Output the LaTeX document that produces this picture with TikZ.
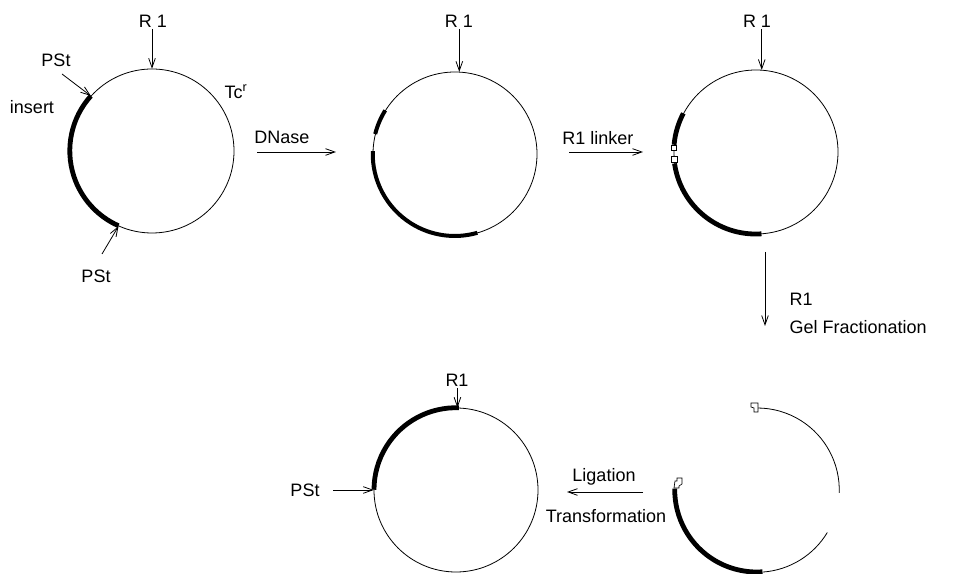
\documentclass[tikz,border=0pt]{standalone}
\usepackage{fontspec}
\setmainfont{Liberation Sans}
\usetikzlibrary{arrows.meta}
\begin{document}
\begin{tikzpicture}[x=0.75pt,y=0.75pt,
  lbl/.style={font=\fontsize{13.5}{16}\selectfont, inner sep=1pt},
  thinline/.style={line width=0.6pt},
  band/.style={line width=3.6pt},
  arr/.style={line width=0.6pt, -{Straight Barb[length=7pt,width=5pt]}},
  ring/.style={circle, minimum size=123pt, inner sep=0pt, draw=none},
  linkbox/.style={draw, fill=white, line width=0.5pt, minimum size=4.2pt, inner sep=0pt},
  hook/.style={draw, fill=white, line width=0.5pt}
]
\useasboundingbox (0,0) rectangle (953,574);

% ---------- circle 1 ----------
\node[ring] (c1) at (152,423) {};
\draw[thinline] (c1) circle[radius=61.5pt];
\draw[band] (c1.138) arc[start angle=138,end angle=246,radius=61.5pt];
\node[lbl] (r1a) at (153,553) {R 1};
\draw[arr] (r1a.south -| c1.north) -- (c1.north);
\node[lbl] (pst1) at (56,514) {PSt};
\coordinate (p1s) at (62,500);
\draw[arr] (p1s) -- (c1.138);
\node[lbl] (ins) at (32,467) {insert};
\node[lbl] (tc) at (236,482) {Tc\textsuperscript{r}};
\node[lbl] (pst2) at (96,298) {PSt};
\coordinate (p2s) at (102,320);
\draw[arr] (p2s) -- (c1.246);

% ---------- DNase ----------
\node[lbl] (dn) at (282,437) {DNase};
\coordinate (dnA) at (257,422);
\coordinate (dnB) at (336,422);
\draw[arr] (dnA) -- (dnB);

% ---------- circle 2 ----------
\node[ring] (c2) at (455,420) {};
\draw[thinline] (c2) circle[radius=61.5pt];
\draw[line width=3pt] (c2.148) arc[start angle=148,end angle=166,radius=61.5pt];
\draw[line width=3pt] (c2.178) arc[start angle=178,end angle=286,radius=61.5pt];
\node[lbl] (r1b) at (459,553) {R 1};
\draw[arr] (r1b.south -| c2.87) -- (c2.87);

% ---------- R1 linker ----------
\node[lbl] (lk) at (598,436) {R1 linker};
\coordinate (lkA) at (569,422);
\coordinate (lkB) at (643,422);
\draw[arr] (lkA) -- (lkB);

% ---------- circle 3 ----------
\node[ring] (c3) at (756,422) {};
\draw[thinline] (c3) circle[radius=61.5pt];
\draw[band] (c3.152) arc[start angle=152,end angle=175,radius=61.5pt];
\draw[band] (c3.188) arc[start angle=188,end angle=274,radius=61.5pt];
\node[linkbox] (sq1) at (c3.177.5) {};
\node[linkbox] (sq2) at (c3.185) {};
\node[lbl] (r1c) at (757,553) {R 1};
\draw[arr] (r1c.south -| c3.86) -- (c3.86);

% ---------- R1 / Gel Fractionation ----------
\coordinate (vA) at (765,322);
\coordinate (vB) at (765,248);
\draw[arr] (vA) -- (vB);
\node[lbl,anchor=west] (r1d) at (788,275) {R1};
\node[lbl,anchor=west] (gel) at (788,247) {Gel Fractionation};

% ---------- circle 4 (cut) ----------
\node[ring] (c4) at (757,84) {};
\draw[thinline] (c4.-2) arc[start angle=-2,end angle=90,radius=61.5pt];
\draw[thinline] (c4.-86) arc[start angle=-86,end angle=-31,radius=61.5pt];
\draw[band] (c4.179) arc[start angle=179,end angle=274,radius=61.5pt];
\draw[hook] (751,171) -- (758,171) -- (758,162) -- (754,162) -- (754,166) -- (751,167) -- cycle;
\draw[hook] (674,86) -- (675,93) -- (677,93) -- (677,96) -- (682,96) -- (682,90) -- (679,88) -- (679,86) -- cycle;

% ---------- Ligation ----------
\node[lbl] (lig) at (604,97) {Ligation};
\node[lbl] (tr) at (606,58) {Transformation};
\coordinate (ligA) at (643,82);
\coordinate (ligB) at (567,82);
\draw[arr] (ligA) -- (ligB);

% ---------- circle 5 ----------
\node[ring] (c5) at (456,84) {};
\draw[thinline] (c5) circle[radius=61.5pt];
\draw[band] (c5.88) arc[start angle=88,end angle=180,radius=61.5pt];
\node[lbl] (r1e) at (457,194) {R1};
\draw[arr] (r1e.south -| c5.89) -- (c5.89);
\node[lbl] (pst3) at (305,84) {PSt};
\coordinate (p3s) at (333,84);
\draw[arr] (p3s) -- (c5.west);
\end{tikzpicture}
\end{document}
